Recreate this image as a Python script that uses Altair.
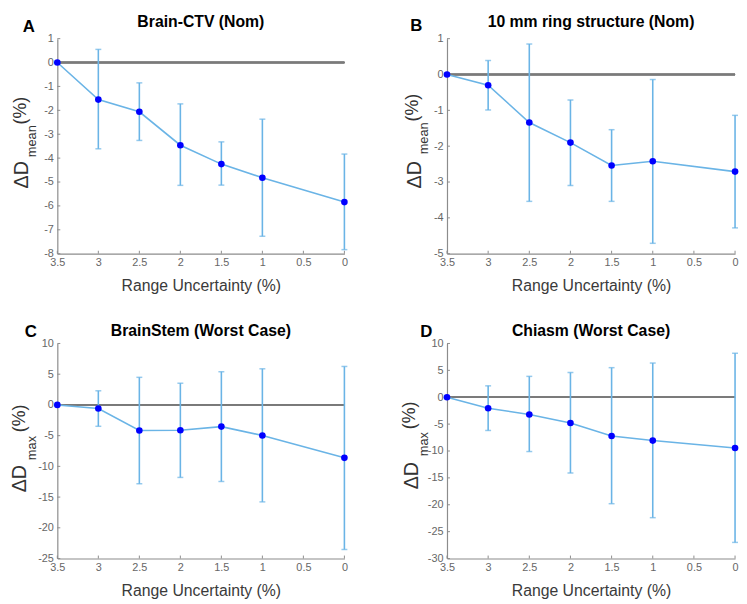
import altair as alt
import pandas as pd

uncertainty = [3.5, 3, 2.5, 2, 1.5, 1, 0]

a_mean = [0, -1.55, -2.06, -3.46, -4.25, -4.82, -5.84]
a_low = [0, -3.61, -3.26, -5.14, -5.13, -7.27, -7.83]
a_high = [0, 0.55, -0.85, -1.73, -3.32, -2.37, -3.83]

b_mean = [0, -0.30, -1.34, -1.90, -2.54, -2.42, -2.71]
b_low = [0, -0.99, -3.54, -3.10, -3.54, -4.71, -4.28]
b_high = [0, 0.39, 0.85, -0.71, -1.54, -0.14, -1.14]

c_mean = [0, -0.59, -4.17, -4.12, -3.53, -4.97, -8.61]
c_low = [0, -3.48, -12.83, -11.80, -12.46, -15.78, -23.53]
c_high = [0, 2.30, 4.49, 3.53, 5.40, 5.88, 6.26]

d_mean = [0, -2.06, -3.20, -4.80, -7.20, -8.06, -9.45]
d_low = [0, -6.18, -10.10, -14.10, -19.80, -22.40, -27.00]
d_high = [0, 2.12, 3.88, 4.60, 5.50, 6.36, 8.18]

titles = ["Brain-CTV (Nom)", "10 mm ring structure (Nom)",
          "BrainStem (Worst Case)", "Chiasm (Worst Case)"]
letters = ["A", "B", "C", "D"]
subscripts = ["mean", "mean", "max", "max"]
y_domains = [(-8, 1), (-5, 1), (-25, 10), (-30, 10)]
y_ticks = [list(range(-8, 2)), list(range(-5, 2)),
           list(range(-25, 11, 5)), list(range(-30, 11, 5))]
x_ticks = [3.5, 3, 2.5, 2, 1.5, 1, 0.5, 0]
x_title = "Range Uncertainty (%)"

FONT = "Liberation Sans"
LINE = "#6AB4E6"
AXC = "#8c8c8c"
W1, W2, H = 291, 292, 218

# per-panel annotation placement (pixels relative to plot area)
layout = [
    dict(w=W1, ty=-12, lx=-29, ly=-12, dx=-30, sx=-22, px=-32, dy=138, sy=104, py=73),
    dict(w=W2, ty=-12, lx=-31, ly=-13, dx=-26, sx=-19, px=-29, dy=138, sy=101, py=70),
    dict(w=W1, ty=-8, lx=-27, ly=-12, dx=-32, sx=-22, px=-33, dy=137, sy=106, py=76),
    dict(w=W2, ty=-8, lx=-21, ly=-12, dx=-29, sx=-19, px=-32, dy=134, sy=102, py=73),
]

series = [(a_mean, a_low, a_high), (b_mean, b_low, b_high),
          (c_mean, c_low, c_high), (d_mean, d_low, d_high)]


def panel(i):
    mean, low, high = series[i]
    df = pd.DataFrame({"u": uncertainty, "m": mean, "lo": low, "hi": high})
    lo_d, hi_d = y_domains[i]
    L = layout[i]
    xs = alt.Scale(domain=[0, 3.5], reverse=True, nice=False)
    ys = alt.Scale(domain=[lo_d, hi_d], nice=False, zero=False)
    xax = alt.Axis(values=x_ticks, labelExpr="toString(datum.value)",
                   title=x_title, grid=False, tickSize=0, labelPadding=3,
                   titlePadding=10, titleFontSize=16, titleFontWeight="normal",
                   titleColor="#3a3a3a", labelFontSize=11, labelColor="#666666",
                   domainColor=AXC, domainWidth=1.2, labelFont=FONT,
                   titleFont=FONT, labelFlush=False)
    yax = alt.Axis(values=y_ticks[i], labelExpr="toString(datum.value)",
                   title=None, grid=False, tickSize=0, labelPadding=4,
                   labelFontSize=11, labelColor="#666666", domainColor=AXC,
                   domainWidth=1.2, labelFont=FONT)
    base = alt.Chart(df)
    x = alt.X("u:Q", scale=xs, axis=xax)

    # inward tick marks (MATLAB style)
    xt = alt.Chart(pd.DataFrame({"t": x_ticks})).mark_rule(color=AXC, strokeWidth=1).encode(
        x=alt.X("t:Q", scale=xs, axis=xax), y=alt.value(H), y2=alt.value(H - 3))
    yt = alt.Chart(pd.DataFrame({"t": y_ticks[i]})).mark_rule(color=AXC, strokeWidth=1).encode(
        y=alt.Y("t:Q", scale=ys, axis=yax), x=alt.value(0), x2=alt.value(3))

    zero = alt.Chart(df).mark_rule(color="#7a7a7a", strokeWidth=1.4).encode(
        y=alt.datum(0, scale=ys, axis=yax))
    bars = base.mark_rule(color=LINE, strokeWidth=1.6).encode(
        x=x, y=alt.Y("lo:Q", scale=ys, axis=yax), y2="hi:Q")
    cap_lo = base.mark_tick(color=LINE, orient="horizontal", size=6, thickness=1.5).encode(
        x=x, y=alt.Y("lo:Q", scale=ys, axis=yax))
    cap_hi = base.mark_tick(color=LINE, orient="horizontal", size=6, thickness=1.5).encode(
        x=x, y=alt.Y("hi:Q", scale=ys, axis=yax))
    line = base.mark_line(color=LINE, strokeWidth=1.6).encode(
        x=x, y=alt.Y("m:Q", scale=ys, axis=yax))
    pts = base.mark_circle(color="#0000FF", size=45, opacity=1).encode(
        x=x, y=alt.Y("m:Q", scale=ys, axis=yax))

    one = pd.DataFrame({"k": [0]})
    title = alt.Chart(one).mark_text(
        text=titles[i], font=FONT, fontSize=16, fontWeight="bold", color="black",
        align="center", baseline="alphabetic").encode(
        x=alt.value(L["w"] / 2), y=alt.value(L["ty"]))
    letter = alt.Chart(one).mark_text(
        text=letters[i], font=FONT, fontSize=17, fontWeight="bold", color="black",
        align="center", baseline="middle").encode(x=alt.value(L["lx"]), y=alt.value(L["ly"]))
    t_delta = alt.Chart(one).mark_text(
        text="ΔD", font=FONT, fontSize=20, color="#333333", angle=270,
        align="center", baseline="alphabetic").encode(x=alt.value(L["dx"]), y=alt.value(L["dy"]))
    t_sub = alt.Chart(one).mark_text(
        text=subscripts[i], font=FONT, fontSize=13, color="#333333", angle=270,
        align="center", baseline="alphabetic").encode(x=alt.value(L["sx"]), y=alt.value(L["sy"]))
    t_pct = alt.Chart(one).mark_text(
        text="(%)", font=FONT, fontSize=18, color="#333333", angle=270,
        align="center", baseline="alphabetic").encode(x=alt.value(L["px"]), y=alt.value(L["py"]))

    return alt.layer(xt, yt, zero, bars, cap_lo, cap_hi, line, pts,
                     title, letter, t_delta, t_sub, t_pct).properties(
        width=L["w"], height=H)


chart = alt.concat(panel(0), panel(1), panel(2), panel(3), columns=2,
                   spacing={"row": 91, "column": 104}, bounds="flush").configure_view(
    stroke=None).properties(padding={"left": 2, "top": 2, "right": 0, "bottom": 0},
                            background="white")

chart.save("out.html", embed_options={"renderer": "svg", "actions": False})
